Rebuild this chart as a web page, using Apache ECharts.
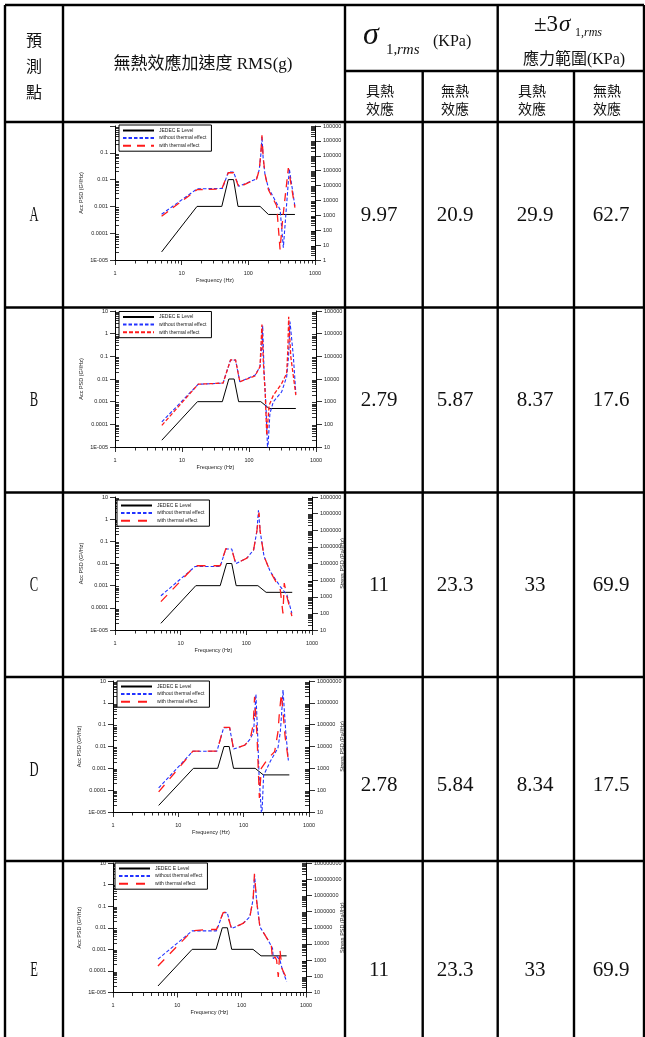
<!DOCTYPE html>
<html>
<head>
<meta charset="utf-8">
<script src="https://cdn.jsdelivr.net/npm/echarts@6/dist/echarts.min.js"></script>
<style>
  html, body { margin: 0; padding: 0; background: #fff; }
  #chart { width: 645px; height: 1037px; }
</style>
</head>
<body>
<div id="chart"></div>
<script>
// table values
const points = ['A', 'B', 'C', 'D', 'E']
const sigmaWith = [9.97, 2.79, 11, 2.78, 11]
const sigmaWithout = [20.9, 5.87, 23.3, 5.84, 23.3]
const rangeWith = [29.9, 8.37, 33, 8.34, 33]
const rangeWithout = [62.7, 17.6, 69.9, 17.5, 69.9]

// JEDEC E level input spectrum (Hz, G^2/Hz)
const jedecFreq = [5, 17, 40, 50, 60, 70, 150, 200, 500]
const jedecPsd = [2e-5, 1e-3, 1e-3, 1e-2, 1e-2, 1e-3, 1e-3, 5e-4, 5e-4]

// point A
const aFreqNo = [5, 17, 41, 50, 60, 72, 95, 133, 146, 155, 160, 167, 178, 200, 300, 335, 412, 500]
const aPsdNo = [5.1e-4, 4.5e-3, 4.7e-3, 0.019, 0.019, 5.6e-3, 7.5e-3, 0.0106, 0.024, 0.1, 0.4, 0.06, 0.015, 4.9e-3, 7.5e-4, 2.9e-5, 0.025, 1e-3]
const aFreqTh = [5, 17, 40, 50, 60, 72, 95, 133, 146, 155, 160, 167, 178, 200, 266, 299, 327, 398, 500]
const aPsdTh = [4.3e-4, 4.2e-3, 4.5e-3, 0.018, 0.018, 5.2e-3, 7.2e-3, 0.0105, 0.023, 0.12, 0.45, 0.07, 0.016, 4.2e-3, 1.06e-3, 2.5e-5, 3.2e-4, 0.027, 9e-4]

// point B
const bFreqNo = [5, 17.5, 41, 53, 63, 73, 123, 146, 155, 160, 168, 179, 190, 205, 231, 307, 365, 390, 409, 458, 500]
const bPsdNo = [1.28e-4, 5.9e-3, 6.6e-3, 0.068, 0.068, 7.5e-3, 0.0148, 0.035, 0.3, 2.26, 0.02, 7e-4, 6e-6, 3e-4, 1e-3, 2.7e-3, 0.0126, 0.11, 3.4, 0.11, 2.3e-3]
const bFreqTh = [5, 17.5, 41, 53, 63, 73, 123, 146, 156, 164, 175, 184, 200, 231, 307, 365, 380, 391, 420, 500]
const bPsdTh = [9e-5, 5.9e-3, 6.6e-3, 0.07, 0.07, 7.5e-3, 0.0138, 0.035, 2.5, 0.05, 2e-3, 3.3e-5, 7e-4, 1.9e-3, 6.3e-3, 0.0175, 0.2, 5.6, 0.1, 1.95e-3]

// point C
const cFreqNo = [5, 16.6, 40, 48.7, 60, 69, 102, 129, 145, 153, 162, 186, 231, 329, 415, 494]
const cPsdNo = [3.5e-4, 7.3e-3, 7.3e-3, 0.045, 0.045, 9.8e-3, 0.0175, 0.041, 0.3, 2.5, 0.3, 0.021, 4.4e-3, 9.1e-4, 3.8e-4, 5.6e-5]
const cFreqTh = [5, 16.6, 25, 40, 48.7, 60, 69, 102, 129, 145, 156, 162, 186, 231, 329, 361, 378, 415, 494]
const cPsdTh = [1.9e-4, 7.9e-3, 7.9e-3, 7.9e-3, 0.047, 0.043, 9.8e-3, 0.0175, 0.041, 0.3, 2, 0.3, 0.021, 4.4e-3, 6.5e-4, 5.6e-5, 1.3e-3, 3.2e-4, 4.2e-5]

// point D
const dFreqNo = [5, 16.7, 39, 49.4, 61, 70, 104, 126, 142, 154, 163, 172, 189, 202, 256, 335, 364, 385, 400, 440, 483]
const dPsdNo = [1.26e-4, 6.1e-3, 6.1e-3, 0.073, 0.073, 7.6e-3, 0.0115, 0.022, 0.047, 2.45, 0.05, 4.8e-4, 5e-6, 4.8e-4, 2.1e-3, 8.7e-3, 0.047, 0.5, 3.9, 0.05, 2.3e-3]
const dFreqTh = [5, 16.7, 39, 49.4, 61, 70, 104, 126, 140, 147, 160, 174, 186, 235, 298, 335, 350, 377, 400, 430, 483]
const dPsdTh = [8.3e-5, 6.1e-3, 6.1e-3, 0.075, 0.075, 7.6e-3, 0.0115, 0.022, 0.1, 1.9, 0.033, 4.4e-5, 1e-3, 2.8e-3, 5.8e-3, 0.047, 0.27, 2.7, 0.4, 0.03, 2.3e-3]

// point E
const eFreqNo = [5, 17, 40.6, 51.5, 59.6, 69.5, 105, 134, 151, 159, 170, 192, 259, 302, 310, 349, 393, 432, 500]
const ePsdNo = [3.5e-4, 7.2e-3, 7.2e-3, 0.05, 0.05, 9.1e-3, 0.0158, 0.032, 0.22, 2.7, 0.2, 0.011, 2.6e-3, 1.1e-3, 3.7e-4, 4.8e-4, 3.2e-4, 1.07e-4, 3.2e-5]
const eFreqTh = [5, 17, 28, 40.6, 51.5, 58, 69.5, 105, 134, 151, 158, 170, 192, 259, 285, 302, 329, 349, 371, 393, 423, 500]
const ePsdTh = [1.7e-4, 7.2e-3, 8.3e-3, 8.3e-3, 0.05, 0.054, 9.1e-3, 0.0158, 0.032, 0.22, 3.2, 0.2, 0.011, 2.6e-3, 2.5e-3, 3.2e-4, 4.5e-4, 3.2e-4, 5.3e-5, 1e-3, 1.3e-4, 4.5e-5]

const curves = [
  [aFreqNo, aPsdNo, aFreqTh, aPsdTh],
  [bFreqNo, bPsdNo, bFreqTh, bPsdTh],
  [cFreqNo, cPsdNo, cFreqTh, cPsdTh],
  [dFreqNo, dPsdNo, dFreqTh, dPsdTh],
  [eFreqNo, ePsdNo, eFreqTh, ePsdTh],
]

// axis ranges per small chart
const accMax = [1, 10, 10, 10, 10]
const stressMin = [1, 10, 10, 10, 10]
const stressMax = [1e9, 1e7, 1e9, 1e7, 1e9]

// layout of the embedded plots (pixels)
const layout = [
  { left: 115, top: 126, width: 200, height: 134, legendLeft: 119, legendTop: 125, rowMid: 215, numMid: 215, stressTitle: false },
  { left: 115, top: 311, width: 201, height: 136, legendLeft: 119, legendTop: 311.5, rowMid: 400, numMid: 400, stressTitle: false },
  { left: 115, top: 497, width: 197, height: 133, legendLeft: 117, legendTop: 500, rowMid: 585, numMid: 585, stressTitle: true },
  { left: 113, top: 681, width: 196, height: 131, legendLeft: 117, legendTop: 681, rowMid: 770, numMid: 785, stressTitle: true },
  { left: 113, top: 863, width: 193, height: 129.5, legendLeft: 115, legendTop: 863, rowMid: 970, numMid: 970, stressTitle: true },
]
const redDash = [[8, 6], [4, 2], [9, 8], [9, 8], [9, 8]]

const SMALL = 5.5
const INK = '#222'

const zip = (xs, ys) => xs.map((x, i) => [x, ys[i]])

function decades(min, max) {
  const out = []
  for (let e = Math.round(Math.log10(min)); e <= Math.round(Math.log10(max)); e++) out.push(Number('1e' + e))
  return out
}
function minors(min, max) {
  const out = []
  for (let e = Math.round(Math.log10(min)); e < Math.round(Math.log10(max)); e++) {
    for (let k = 2; k <= 9; k++) out.push(Number(k + 'e' + e))
  }
  return out
}
function accLabel(v) {
  const e = Math.round(Math.log10(v))
  if (e <= -5) return '1E-00' + (-e)
  if (e < 0) return '0.' + '0'.repeat(-e - 1) + '1'
  return '1' + '0'.repeat(e)
}
const plainLabel = (v) => '1' + '0'.repeat(Math.round(Math.log10(v)))

const grid = [], xAxis = [], yAxis = [], series = [], legend = []

layout.forEach((L, i) => {
  grid.push({ left: L.left, top: L.top, width: L.width, height: L.height })

  const axisLine = { show: true, lineStyle: { color: '#000', width: 1 } }
  const tickStyle = { color: '#000', width: 0.8 }

  // frequency axis + its minor ticks
  xAxis.push({
    type: 'log', gridIndex: i, position: 'bottom', min: 1, max: 1000,
    axisLine,
    axisTick: { length: 5, lineStyle: tickStyle, customValues: decades(1, 1000) },
    axisLabel: { customValues: decades(1, 1000), margin: 10, fontSize: SMALL, color: INK, formatter: plainLabel },
    splitLine: { show: false },
    name: 'Frequency (Hz)', nameLocation: 'middle', nameGap: 17, nameMoveOverlap: false,
    nameTextStyle: { fontSize: SMALL, color: INK },
  })
  xAxis.push({
    type: 'log', gridIndex: i, position: 'bottom', min: 1, max: 1000,
    axisLine: { show: false },
    axisTick: { length: 3.5, lineStyle: tickStyle, customValues: minors(1, 1000) },
    axisLabel: { show: false },
    splitLine: { show: false },
  })

  // acceleration PSD axis (left)
  const accVals = decades(1e-5, accMax[i])
  yAxis.push({
    type: 'log', gridIndex: i, position: 'left', min: 1e-5, max: accMax[i],
    axisLine,
    axisTick: { length: 5, lineStyle: tickStyle, customValues: accVals },
    axisLabel: {
      customValues: i === 0 ? accVals.slice(0, -1) : accVals,
      margin: 7, fontSize: SMALL, color: INK, formatter: accLabel,
    },
    splitLine: { show: false },
    name: 'Acc PSD (G²/Hz)', nameLocation: 'middle', nameGap: 31, nameMoveOverlap: false,
    nameTextStyle: { fontSize: SMALL, color: INK },
  })
  yAxis.push({
    type: 'log', gridIndex: i, position: 'left', min: 1e-5, max: accMax[i],
    axisLine: { show: false },
    axisTick: { inside: true, length: 4, lineStyle: tickStyle, customValues: minors(1e-5, accMax[i]) },
    axisLabel: { show: false },
    splitLine: { show: false },
  })

  // stress PSD axis (right), labels cut off by the cell border
  const sVals = decades(stressMin[i], stressMax[i])
  const labelRoom = 344 - (L.left + L.width) - 8
  yAxis.push({
    type: 'log', gridIndex: i, position: 'right', min: stressMin[i], max: stressMax[i],
    axisLine,
    axisTick: { length: 6, lineStyle: tickStyle, customValues: sVals },
    axisLabel: {
      customValues: sVals, margin: 8, fontSize: SMALL, color: INK, formatter: plainLabel,
      width: labelRoom, overflow: 'truncate', ellipsis: '',
    },
    splitLine: { show: false },
    name: L.stressTitle ? 'Stress PSD (Pa²/Hz)' : '', nameLocation: 'middle',
    nameGap: 342 - (L.left + L.width) - 3, nameMoveOverlap: false,
    nameTextStyle: { fontSize: SMALL, color: INK },
  })
  yAxis.push({
    type: 'log', gridIndex: i, position: 'right', min: stressMin[i], max: stressMax[i],
    axisLine: { show: false },
    axisTick: { inside: true, length: 4, lineStyle: tickStyle, customValues: minors(stressMin[i], stressMax[i]) },
    axisLabel: { show: false },
    splitLine: { show: false },
  })

  const tag = points[i] + '|'
  const [fNo, pNo, fTh, pTh] = curves[i]
  const common = { type: 'line', xAxisIndex: 2 * i, yAxisIndex: 4 * i, symbol: 'none', silent: true, animation: false }
  series.push({
    ...common, name: tag + 'JEDEC E Level', data: zip(jedecFreq, jedecPsd),
    lineStyle: { color: '#000', width: 1 }, itemStyle: { color: '#000' }, z: 3,
  })
  series.push({
    ...common, name: tag + 'without thermal effect', data: zip(fNo, pNo),
    lineStyle: { color: '#2233ff', width: 1.1, type: [3.5, 2] }, itemStyle: { color: '#2233ff' }, z: 4,
  })
  series.push({
    ...common, name: tag + 'with thermal effect', data: zip(fTh, pTh),
    lineStyle: { color: '#ff1a1a', width: 1.3, type: redDash[i] }, itemStyle: { color: '#ff1a1a' }, z: 5,
  })

  legend.push({
    orient: 'vertical', left: L.legendLeft, top: L.legendTop,
    data: [tag + 'JEDEC E Level', tag + 'without thermal effect', tag + 'with thermal effect'],
    formatter: (n) => n.split('|')[1],
    itemWidth: 31, itemHeight: 5, itemGap: 2.6,
    padding: [3, 5, 3, 3],
    borderColor: '#000', borderWidth: 1, borderRadius: 0, backgroundColor: '#fff',
    itemStyle: { opacity: 0 },
    textStyle: { fontSize: 5, color: INK },
    selectedMode: false,
  })
})

// ---- table drawn as graphics ----
const colX = [5, 63, 345, 422.7, 497.7, 574, 644]
const rowY = [122, 307.5, 492.5, 677, 861]
const BOTTOM = 1037
const LW = 2.4
const CJK = '"Noto Sans CJK TC", "Noto Sans CJK JP", sans-serif'
const SERIF = '"Liberation Serif", "DejaVu Serif", serif'

const line = (x1, y1, x2, y2) => ({
  type: 'line', z: 100, silent: true,
  shape: { x1, y1, x2, y2 },
  style: { stroke: '#000', lineWidth: LW },
})
const txt = (x, y, text, font, extra) => ({
  type: 'text', z: 100, silent: true, x, y,
  style: { text, font, fill: '#111', textAlign: 'center', textVerticalAlign: 'middle' },
  ...(extra || {}),
})
const leftTxt = (x, y, text, font) => ({
  type: 'text', z: 100, silent: true, x, y,
  style: { text, font, fill: '#111', textAlign: 'left', textVerticalAlign: 'middle' },
})

const graphics = []
// vertical rules
graphics.push(line(colX[0], 5, colX[0], BOTTOM))
graphics.push(line(colX[1], 5, colX[1], BOTTOM))
graphics.push(line(colX[2], 5, colX[2], BOTTOM))
graphics.push(line(colX[3], 71, colX[3], BOTTOM))
graphics.push(line(colX[4], 5, colX[4], BOTTOM))
graphics.push(line(colX[5], 71, colX[5], BOTTOM))
graphics.push(line(colX[6], 5, colX[6], BOTTOM))
// horizontal rules
graphics.push(line(colX[0], 5, colX[6], 5))
graphics.push(line(colX[2], 71, colX[6], 71))
rowY.forEach((y) => graphics.push(line(colX[0], y, colX[6], y)))

// header
graphics.push(txt(34, 40, '預', '16px ' + CJK))
graphics.push(txt(34, 66, '測', '16px ' + CJK))
graphics.push(txt(34, 92, '點', '16px ' + CJK))
graphics.push(txt(203, 65, '無熱效應加速度 RMS(g)', '17px "Liberation Serif", ' + CJK))

graphics.push(leftTxt(363, 36, 'σ', 'italic 32px ' + SERIF))
graphics.push(leftTxt(386, 50, '1,', '15px ' + SERIF))
graphics.push(leftTxt(397, 50, 'rms', 'italic 15px ' + SERIF))
graphics.push(leftTxt(433, 42, '(KPa)', '16px ' + SERIF))

graphics.push(leftTxt(534, 25, '±3', '23px ' + SERIF))
graphics.push(leftTxt(559, 25, 'σ', 'italic 23px ' + SERIF))
graphics.push(leftTxt(575, 33, '1,', '12px ' + SERIF))
graphics.push(leftTxt(584, 33, 'rms', 'italic 12px ' + SERIF))
graphics.push(txt(574, 60, '應力範圍(KPa)', '16px "Liberation Serif", ' + CJK))

const subCenters = [380, 455, 532, 607]
subCenters.forEach((cx, k) => {
  graphics.push(txt(cx, 91, k % 2 === 0 ? '具熱' : '無熱', '14px ' + CJK))
  graphics.push(txt(cx, 109, '效應', '14px ' + CJK))
})

// body cells
const numCenters = [379, 455, 535, 611]
layout.forEach((L, i) => {
  graphics.push(txt(34, L.rowMid, points[i], '21px ' + SERIF, { scaleX: 0.6 }))
  const vals = [sigmaWith[i], sigmaWithout[i], rangeWith[i], rangeWithout[i]]
  vals.forEach((v, k) => graphics.push(txt(numCenters[k], L.numMid, String(v), '21px ' + SERIF)))
})

const chart = echarts.init(document.getElementById('chart'), null, { renderer: 'canvas' })
chart.setOption({
  animation: false,
  backgroundColor: '#fff',
  textStyle: { fontFamily: '"Liberation Sans", Arial, sans-serif' },
  grid,
  xAxis,
  yAxis,
  series,
  legend,
  graphic: { elements: graphics },
})
</script>
</body>
</html>
